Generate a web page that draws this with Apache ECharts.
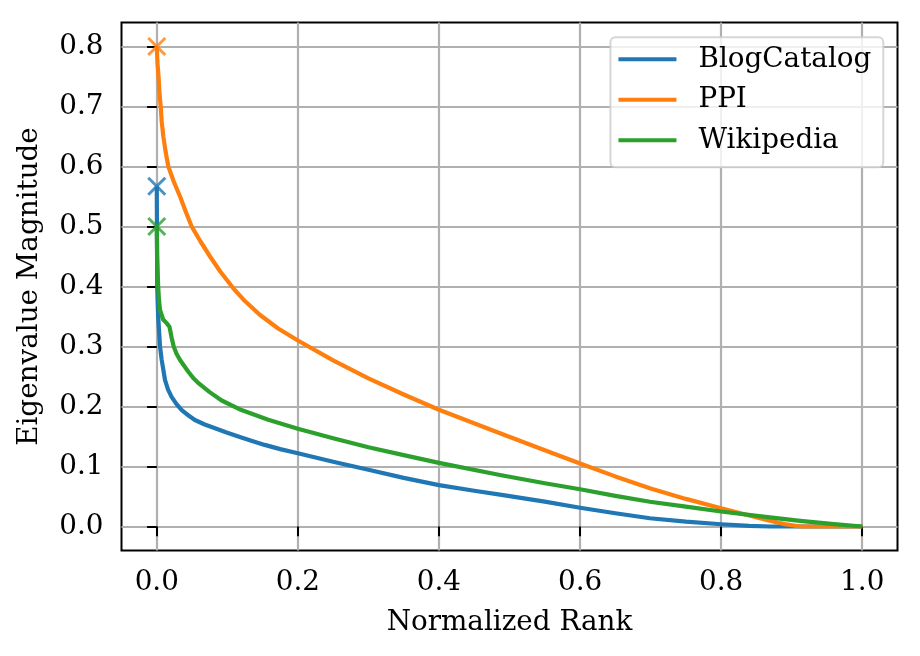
<!DOCTYPE html>
<html>
<head>
<meta charset="utf-8">
<script src="https://cdn.jsdelivr.net/npm/echarts@6/dist/echarts.min.js"></script>
<style>
html,body{margin:0;padding:0;background:#fff;}
#chart{width:920px;height:656px;}
</style>
</head>
<body>
<div id="chart"></div>
<script>
// ---- data ----
const seriesNames = ['BlogCatalog', 'PPI', 'Wikipedia'];
const seriesColors = ['#1f77b4', '#ff7f0e', '#2ca02c'];

const blogRank = [0, 0.0003, 0.0006, 0.002, 0.0046, 0.007, 0.0117, 0.016, 0.021, 0.028, 0.0354, 0.045, 0.054, 0.068, 0.0826, 0.098, 0.1156, 0.134, 0.153, 0.175, 0.2, 0.25, 0.3, 0.35, 0.4, 0.45, 0.4865, 0.55, 0.6, 0.65, 0.699, 0.75, 0.8, 0.84, 0.87, 0.93, 1.0];
const blogValue = [0.567, 0.48, 0.40, 0.35, 0.30, 0.2775, 0.244, 0.228, 0.216, 0.204, 0.194, 0.185, 0.1775, 0.17, 0.1636, 0.157, 0.15, 0.143, 0.136, 0.129, 0.122, 0.108, 0.0945, 0.081, 0.069, 0.0595, 0.053, 0.0415, 0.0313, 0.022, 0.0137, 0.008, 0.0038, 0.001, 0.0, 0.0, 0.0];

const ppiRank = [0, 0.001, 0.0025, 0.004, 0.0056, 0.007, 0.0093, 0.0125, 0.0164, 0.024, 0.033, 0.041, 0.0495, 0.062, 0.0755, 0.09, 0.1085, 0.123, 0.146, 0.172, 0.2, 0.25, 0.3, 0.35, 0.4, 0.4865, 0.55, 0.6, 0.65, 0.7, 0.75, 0.8, 0.8645, 0.89, 0.912, 0.95, 1.0];
const ppiValue = [0.8, 0.772, 0.75, 0.72, 0.70, 0.675, 0.65, 0.625, 0.60, 0.575, 0.55, 0.525, 0.50, 0.475, 0.45, 0.425, 0.397, 0.378, 0.353, 0.33, 0.31, 0.277, 0.247, 0.22, 0.1945, 0.1553, 0.127, 0.105, 0.0835, 0.0635, 0.046, 0.0303, 0.0108, 0.004, 0.0, 0.0, 0.0];

const wikiRank = [0, 0.0005, 0.002, 0.003, 0.0046, 0.009, 0.014, 0.018, 0.021, 0.024, 0.028, 0.033, 0.0447, 0.052, 0.06, 0.075, 0.092, 0.12, 0.158, 0.2, 0.25, 0.3, 0.35, 0.4, 0.4865, 0.55, 0.6, 0.65, 0.699, 0.75, 0.8, 0.86, 0.912, 0.96, 1.0];
const wikiValue = [0.5, 0.45, 0.40, 0.38, 0.361, 0.345, 0.339, 0.333, 0.315, 0.30, 0.288, 0.2775, 0.258, 0.247, 0.238, 0.224, 0.21, 0.194, 0.178, 0.163, 0.147, 0.132, 0.119, 0.106, 0.0858, 0.072, 0.062, 0.051, 0.0413, 0.033, 0.025, 0.0165, 0.0095, 0.004, 0.0];

const xTicks = [0.0, 0.2, 0.4, 0.6, 0.8, 1.0];
const yTicks = [0.0, 0.1, 0.2, 0.3, 0.4, 0.5, 0.6, 0.7, 0.8];
const xLabel = 'Normalized Rank';
const yLabel = 'Eigenvalue Magnitude';

// ---- chart ----
const ranks = [blogRank, ppiRank, wikiRank];
const values = [blogValue, ppiValue, wikiValue];
const pairs = (xs, ys) => xs.map((x, i) => [x, ys[i]]);

const FONT = 'DejaVu Serif';
const FS = 27.8;
const X_PATH = 'path://M0,0L10,10M0,10L10,0';

const series = [];
seriesNames.forEach((name, i) => {
  series.push({
    name: name,
    type: 'line',
    data: pairs(ranks[i], values[i]),
    showSymbol: false,
    symbol: 'none',
    lineStyle: { color: seriesColors[i], width: 4.2, cap: 'butt', join: 'round' },
    itemStyle: { color: seriesColors[i] },
    emphasis: { disabled: true },
    animation: false,
    z: 3
  });
});
seriesNames.forEach((name, i) => {
  series.push({
    name: name + ' first',
    type: 'scatter',
    data: [[ranks[i][0], values[i][0]]],
    symbol: X_PATH,
    symbolSize: 17,
    itemStyle: { color: 'transparent', borderColor: seriesColors[i], borderWidth: 3 },
    emphasis: { disabled: true },
    animation: false,
    z: 4
  });
});

const chart = echarts.init(document.getElementById('chart'), null, { renderer: 'canvas' });
chart.setOption({
  animation: false,
  backgroundColor: '#ffffff',
  grid: {
    left: 121.5, right: 22.5, top: 22.5, bottom: 105.5,
    show: true, borderColor: '#000', borderWidth: 2, backgroundColor: 'transparent',
    containLabel: false
  },
  legend: {
    data: seriesNames,
    orient: 'vertical',
    right: 36.7,
    top: 37.3,
    icon: 'rect',
    itemWidth: 58,
    itemHeight: 4,
    itemGap: 10.5,
    padding: [7, 12, 12, 8],
    backgroundColor: 'rgba(255,255,255,0.8)',
    borderColor: 'rgba(204,204,204,0.8)',
    borderWidth: 2,
    borderRadius: 5,
    selectedMode: false,
    textStyle: { fontFamily: FONT, fontSize: FS, color: '#000', lineHeight: 30, padding: [0, 0, 0, 17] }
  },
  xAxis: {
    type: 'value', min: -0.05, max: 1.05,
    axisLine: { show: false },
    axisTick: { show: true, customValues: xTicks, length: 9.7, lineStyle: { color: '#000', width: 2 } },
    axisLabel: { customValues: xTicks, formatter: v => v.toFixed(1), fontFamily: FONT, fontSize: FS, color: '#000', margin: 18 },
    splitLine: { show: true, lineStyle: { color: '#b0b0b0', width: 2.2 } },
    name: xLabel, nameLocation: 'middle', nameGap: 58,
    nameTextStyle: { fontFamily: FONT, fontSize: FS, color: '#000' }
  },
  yAxis: {
    type: 'value', min: -0.04, max: 0.84,
    axisLine: { show: false },
    axisTick: { show: true, customValues: yTicks, length: 9.7, lineStyle: { color: '#000', width: 2 } },
    axisLabel: { customValues: yTicks, formatter: v => v.toFixed(1), fontFamily: FONT, fontSize: FS, color: '#000', margin: 18 },
    splitLine: { show: true, lineStyle: { color: '#b0b0b0', width: 2.2 } },
    name: yLabel, nameLocation: 'middle', nameGap: 78,
    nameTextStyle: { fontFamily: FONT, fontSize: FS, color: '#000' }
  },
  series: series
});
</script>
</body>
</html>
